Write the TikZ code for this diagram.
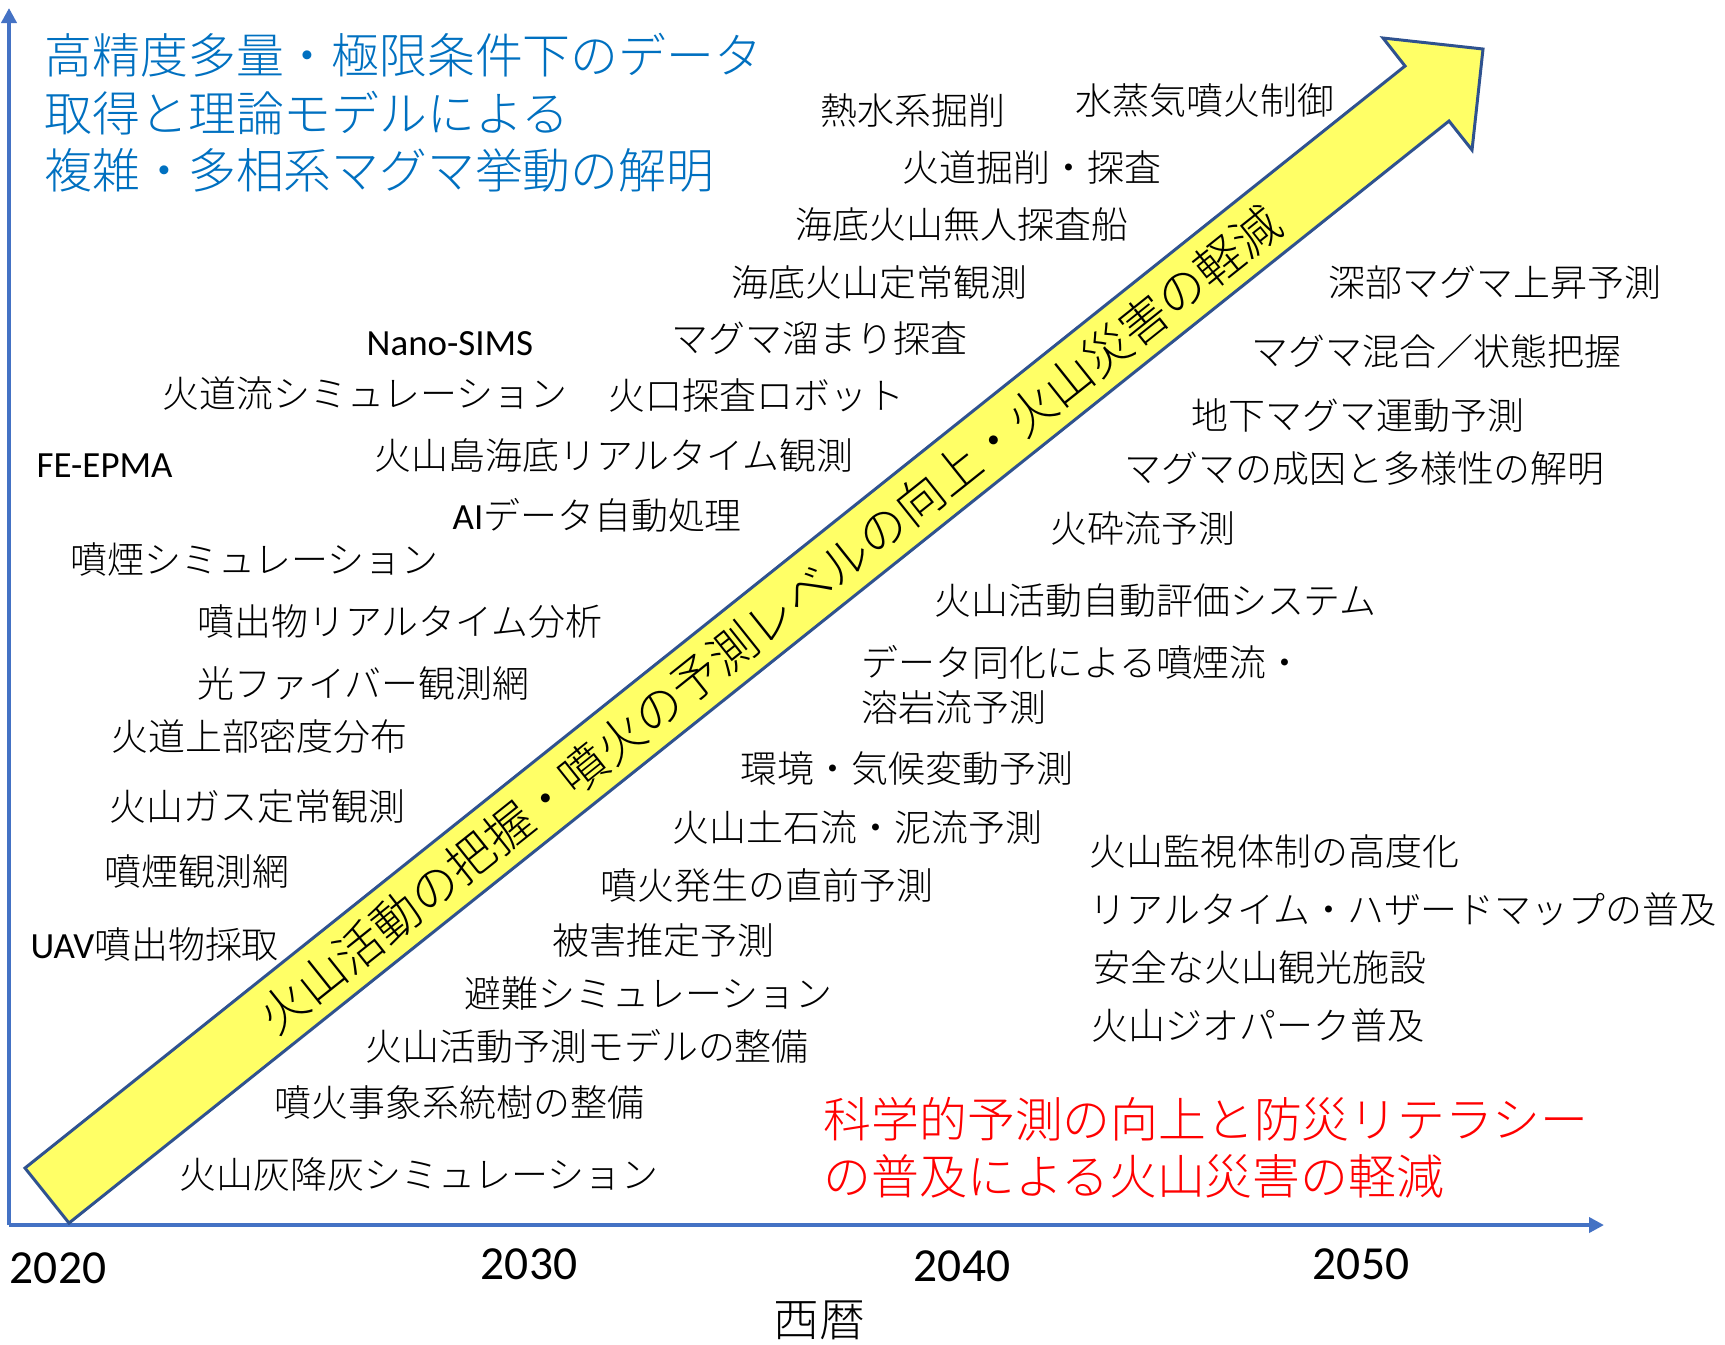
\documentclass[tikz,border=0pt]{standalone}
\usepackage{fontspec}
\IfFontExistsTF{Noto Sans CJK JP Light}{\setmainfont{Noto Sans CJK JP Light}}{\setmainfont{Noto Sans CJK JP}}
\newfontfamily\latfont{Carlito}
\usetikzlibrary{arrows.meta}
\definecolor{axisblue}{RGB}{68,114,196}
\definecolor{edgeblue}{RGB}{47,82,143}
\definecolor{arrowyellow}{RGB}{255,255,102}
\definecolor{titleblue}{RGB}{0,112,192}

\begin{document}
\begin{tikzpicture}[x=0.01cm,y=-0.01cm,
  item/.style={anchor=west,inner sep=0pt,font=\fontsize{10.5}{12}\selectfont},
  goal/.style={anchor=west,inner sep=0pt,align=left,font=\fontsize{13.6}{16.3}\selectfont},
  year/.style={inner sep=0pt,font=\latfont\fontsize{13.5}{15}\selectfont}]
\useasboundingbox (0,0) rectangle (1725,1344);
\coordinate (origin) at (9,1225);
\coordinate (ytop) at (9,8);
\coordinate (xend) at (1604,1225);
\draw[axisblue,line width=1.15pt,-{Triangle[length=0.15cm,width=0.15cm]}] (origin) -- (ytop);
\draw[axisblue,line width=1.15pt,-{Triangle[length=0.15cm,width=0.15cm]}] (origin) -- (xend);
\draw[edgeblue,line width=0.85pt,fill=arrowyellow,line join=miter] (25,1168) -- (1405,66) -- (1383,38) -- (1483,49) -- (1472,150) -- (1449,121) -- (69,1223) -- cycle;
\node[inner sep=0pt,rotate=38.6,font=\fontsize{13.6}{15}\selectfont] (trend) at (770,619) {火山活動の把握・噴火の予測レベルの向上・火山災害の軽減};
\node[goal,text=titleblue] (science) at (44,113) {高精度多量・極限条件下のデータ\\取得と理論モデルによる\\複雑・多相系マグマ挙動の解明};
\node[goal,text=red] (disaster) at (823,1148) {科学的予測の向上と防災リテラシー\\の普及による火山災害の軽減};
\node[item] (netsu) at (820,110) {熱水系掘削};
\node[item] (suijoki) at (1075,100) {水蒸気噴火制御};
\node[item] (kadokussaku) at (902,167) {火道掘削・探査};
\node[item] (mujin) at (795,225) {海底火山無人探査船};
\node[item] (teijo) at (731,283) {海底火山定常観測};
\node[item] (shinbu) at (1328,283) {深部マグマ上昇予測};
\node[item,font=\latfont\fontsize{10.5}{12}\selectfont] (nanosims) at (366,344) {Nano-SIMS};
\node[item] (tamari) at (671,338) {マグマ溜まり探査};
\node[item] (kongo) at (1251,351) {マグマ混合／状態把握};
\node[item] (kadoryu) at (162,393) {火道流シミュレーション};
\node[item] (robot) at (608,395) {火口探査ロボット};
\node[item] (chika) at (1191,416) {地下マグマ運動予測};
\node[item,font=\latfont\fontsize{10.5}{12}\selectfont] (epma) at (36,466) {FE-EPMA};
\node[item] (kazanto) at (374,455) {火山島海底リアルタイム観測};
\node[item] (seiin) at (1124,469) {マグマの成因と多様性の解明};
\node[item] (aidata) at (452,515) {{\latfont AI}データ自動処理};
\node[item] (kasairyu) at (1050,528) {火砕流予測};
\node[item] (funen) at (70,559) {噴煙シミュレーション};
\node[item] (hyoka) at (934,600) {火山活動自動評価システム};
\node[item] (bunseki) at (197,621) {噴出物リアルタイム分析};
\node[item] (doka) at (861,662) {データ同化による噴煙流・};
\node[item] (yogan) at (861,707) {溶岩流予測};
\node[item] (fiber) at (197,683) {光ファイバー観測網};
\node[item] (mitsudo) at (111,736) {火道上部密度分布};
\node[item] (kiko) at (740,768) {環境・気候変動予測};
\node[item] (gas) at (109,806) {火山ガス定常観測};
\node[item] (dosekiryu) at (672,827) {火山土石流・泥流予測};
\node[item] (kanshi) at (1089,851) {火山監視体制の高度化};
\node[item] (funenmo) at (104,871) {噴煙観測網};
\node[item] (chokuzen) at (600,885) {噴火発生の直前予測};
\node[item] (hazard) at (1089,909) {リアルタイム・ハザードマップの普及};
\node[item] (uav) at (30,944) {{\latfont UAV}噴出物採取};
\node[item] (higai) at (552,940) {被害推定予測};
\node[item] (kanko) at (1093,967) {安全な火山観光施設};
\node[item] (hinan) at (464,993) {避難シミュレーション};
\node[item] (geopark) at (1091,1025) {火山ジオパーク普及};
\node[item] (model) at (365,1046) {火山活動予測モデルの整備};
\node[item] (jisho) at (274,1102) {噴火事象系統樹の整備};
\node[item] (kohai) at (179,1174) {火山灰降灰シミュレーション};
\node[year] (y2020) at (58,1268) {2020};
\node[year] (y2030) at (529,1264) {2030};
\node[year] (y2040) at (962,1266) {2040};
\node[year] (y2050) at (1361,1264) {2050};
\node[inner sep=0pt,font=\fontsize{13}{15}\selectfont] (seireki) at (819,1320) {西暦};
\end{tikzpicture}
\end{document}
